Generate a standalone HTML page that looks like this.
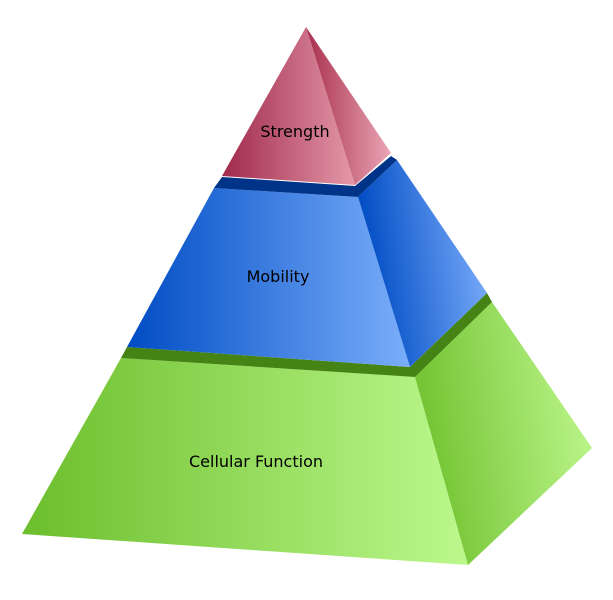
<!DOCTYPE html>
<html><head><meta charset="utf-8"><style>html,body{margin:0;padding:0;background:#fff}svg{display:block}</style></head>
<body>
<svg width="613" height="600" viewBox="0 0 613 600" xmlns="http://www.w3.org/2000/svg">
<defs>
<linearGradient id="pf" x1="0" y1="0" x2="1" y2="0"><stop offset="0" stop-color="#a02a4c"/><stop offset="1" stop-color="#e498a8"/></linearGradient>
<linearGradient id="pr" x1="0" y1="0" x2="1" y2="0"><stop offset="0" stop-color="#a8304f"/><stop offset="1" stop-color="#eaa6b4"/></linearGradient>
<linearGradient id="bf" x1="0" y1="0" x2="1" y2="0"><stop offset="0" stop-color="#004cc4"/><stop offset="1" stop-color="#7aaefa"/></linearGradient>
<linearGradient id="br" x1="0" y1="0.2" x2="1" y2="0"><stop offset="0" stop-color="#004cc4"/><stop offset="1" stop-color="#84b4ff"/></linearGradient>
<linearGradient id="gf" x1="0" y1="0" x2="1" y2="0"><stop offset="0" stop-color="#6cbe2c"/><stop offset="1" stop-color="#bcf88c"/></linearGradient>
<linearGradient id="gr" x1="0" y1="0.2" x2="1" y2="0"><stop offset="0" stop-color="#74c434"/><stop offset="1" stop-color="#c2fa92"/></linearGradient>
</defs>
<polygon points="121,358 415,377 468,565 22,534" fill="url(#gf)"/>
<polygon points="415,377 492,302 592,448 468,565" fill="url(#gr)"/>
<polygon points="127,347 410,367 487,293 492,302 415,377 121,358" fill="#458414"/>
<polygon points="214,188 358,197 410,367 127,347" fill="url(#bf)"/>
<polygon points="358,197 397,160 487,293 410,367" fill="url(#br)"/>
<polygon points="222,177 355,186 391,156 397,160 358,197 214,188" fill="#003488"/>
<polygon points="306,27 355,185 222,176" fill="url(#pf)"/>
<polygon points="306,27 391,153 355,185" fill="url(#pr)"/>
<g font-family="'Comic Sans MS','DejaVu Sans',sans-serif" font-size="16" fill="#000" text-anchor="middle">
<text x="295" y="137">Strength</text>
<text x="278" y="282">Mobility</text>
<text x="256" y="467">Cellular Function</text>
</g>
</svg>
</body></html>
